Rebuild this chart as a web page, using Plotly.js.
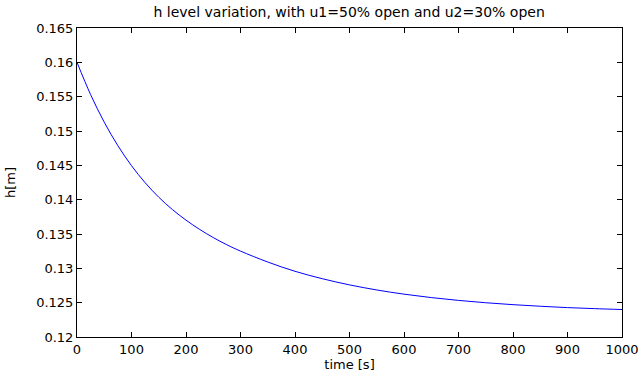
<!DOCTYPE html>
<html>
<head>
<meta charset="utf-8">
<script src="https://cdn.plot.ly/plotly-3.0.1.min.js"></script>
<style>html,body{margin:0;padding:0;background:#fff;}#chart{width:640px;height:372px;}</style>
</head>
<body>
<div id="chart"></div>
<script>
// time [s]
var timeS = [0, 25, 50, 75, 100, 125, 150, 175, 200, 225, 250, 275, 300, 350, 400, 450, 500, 550, 600, 650, 700, 750, 800, 850, 900, 950, 1000];
// h [m]
var hLevel = [0.16000, 0.15529, 0.15128, 0.14786, 0.14495, 0.14247, 0.14036, 0.13856, 0.13702, 0.13567, 0.13448, 0.13343, 0.13251, 0.13092, 0.12957, 0.12849, 0.12759, 0.12685, 0.12624, 0.12574, 0.12533, 0.12499, 0.12471, 0.12448, 0.12428, 0.12413, 0.12400];
var xTicks = [0, 100, 200, 300, 400, 500, 600, 700, 800, 900, 1000];
var yTicks = [0.12, 0.125, 0.13, 0.135, 0.14, 0.145, 0.15, 0.155, 0.16, 0.165];
var yTickText = ['0.12', '0.125', '0.13', '0.135', '0.14', '0.145', '0.15', '0.155', '0.16', '0.165'];

var fontFam = 'DejaVu Sans, Arial, sans-serif';
var trace = {
  x: timeS, y: hLevel, type: 'scatter', mode: 'lines',
  line: {color: '#0000ff', width: 1, shape: 'spline', smoothing: 1},
  hoverinfo: 'skip'
};
var axisCommon = {
  showline: true, linecolor: '#000', linewidth: 1, mirror: 'ticks',
  ticks: 'inside', ticklen: 5, tickcolor: '#000', tickwidth: 1,
  showgrid: false, zeroline: false,
  tickfont: {family: fontFam, size: 13, color: '#000'}
};
var layout = {
  width: 640, height: 372,
  margin: {l: 77, r: 18, t: 28, b: 35},
  paper_bgcolor: '#fff', plot_bgcolor: '#fff',
  showlegend: false,
  font: {family: fontFam, color: '#000'},
  title: {text: 'h level variation, with u1=50% open and u2=30% open',
          font: {family: fontFam, size: 14, color: '#000'},
          x: 0.5455, xanchor: 'center', y: 0.98, yanchor: 'top'},
  xaxis: Object.assign({}, axisCommon, {
    range: [0, 1000], tickvals: xTicks, ticktext: xTicks.map(String),
    title: {text: 'time [s]', font: {family: fontFam, size: 13, color: '#000'}, standoff: 0}
  }),
  yaxis: Object.assign({}, axisCommon, {
    range: [0.12, 0.165], tickvals: yTicks, ticktext: yTickText,
    title: {text: 'h[m]', font: {family: fontFam, size: 13, color: '#000'}, standoff: 17}
  })
};
Plotly.newPlot('chart', [trace], layout, {staticPlot: true, displayModeBar: false});
</script>
</body>
</html>
